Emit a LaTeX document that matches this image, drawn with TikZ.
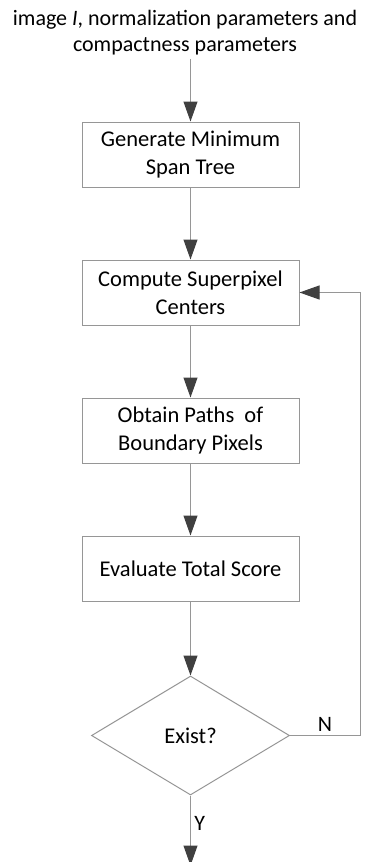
\documentclass[tikz,border=0pt]{standalone}
\usepackage{fontspec}
\setmainfont{Carlito}
\usetikzlibrary{
  arrows.meta,
  positioning,
  shapes.geometric
}
\definecolor{LineGray}{RGB}{150,150,150}
\definecolor{TipGray}{RGB}{64,64,64}
\tikzset{
  stepbox/.style={draw=LineGray,fill=white,line width=1pt,minimum height=65pt,minimum width=217pt,align=center,font=\fontsize{22.5}{28}\selectfont},
  decision/.style={diamond,draw=LineGray,fill=white,line width=1pt,aspect=1.66,minimum height=119pt,minimum width=198pt,inner sep=0pt,font=\fontsize{22.5}{28}\selectfont},
  flow/.style={-{Triangle[length=20pt,width=14pt,color=TipGray]},line width=1pt,draw=LineGray},
  branch/.style={font=\fontsize{22}{24}\selectfont}
}
\begin{document}
\begin{tikzpicture}[node distance=72pt]
\useasboundingbox (0,0) rectangle (368pt,-862pt);
\node[align=center,font=\fontsize{22}{26}\selectfont] (input) at (185pt,-33pt) {image \textit{I}, normalization parameters and\\compactness parameters};
\node[stepbox] (mst) at (190.5pt,-154.5pt) {Generate Minimum\\Span Tree};
\node[stepbox, below=of mst] (centers) {Compute Superpixel\\Centers};
\node[stepbox, below=of centers] (paths) {Obtain Paths\ \ of\\Boundary Pixels};
\node[stepbox, below=of paths] (score) {Evaluate Total Score};
\node[decision, below=74pt of score] (exist) {Exist?};
\coordinate[below=70pt of exist.south] (done);

% Main sequence.
\draw[flow] (input.south -| mst.north) -- (mst);
\draw[flow] (mst) -- (centers);
\draw[flow] (centers) -- (paths);
\draw[flow] (paths) -- (score);
\draw[flow] (score) -- (exist);
\draw[flow] (exist) -- node[branch,right,pos=0.4]{Y} (done);

% Loop back when the check fails.
\draw[flow] (exist.east) -- node[branch,above]{N} ++(70pt,0) |- (centers.east);
\end{tikzpicture}
\end{document}
